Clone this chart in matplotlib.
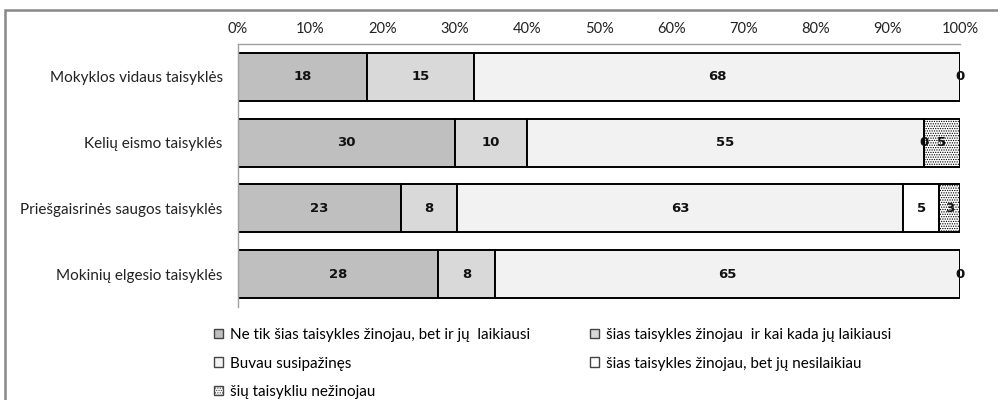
import matplotlib
matplotlib.use("Agg")
import matplotlib.pyplot as plt
import numpy as np
from matplotlib.patches import Rectangle

categories = ["Mokyklos vidaus taisyklės", "Kelių eismo taisyklės",
              "Priešgaisrinės saugos taisyklės", "Mokinių elgesio taisyklės"]
series_names = ["Ne tik šias taisykles žinojau, bet ir jų  laikiausi",
                "šias taisykles žinojau  ir kai kada jų laikiausi",
                "Buvau susipažinęs",
                "šias taisykles žinojau, bet jų nesilaikiau",
                "šių taisykliu nežinojau"]
s1 = [18, 30, 23, 28]
s2 = [15, 10, 8, 8]
s3 = [68, 55, 63, 65]
s4 = [0, 0, 5, 0]
s5 = [np.nan, 5, 3, np.nan]
tick_labels = ["0%", "10%", "20%", "30%", "40%", "50%", "60%", "70%", "80%", "90%", "100%"]

colors = ["#BFBFBF", "#D9D9D9", "#F2F2F2", "#FFFFFF", "#FFFFFF"]
hatches = [None, None, None, None, "......."]

plt.rcParams['hatch.linewidth'] = 0.6
fig = plt.figure(figsize=(9.98, 4.0), dpi=100)
ax = fig.add_axes([238/998, 1-307/400, (960-238)/998, (307-44)/400])

data = np.array([s1, s2, s3, s4, s5], dtype=float)
totals = np.nansum(data, axis=0)
pct = data / totals * 100
y = np.arange(len(categories))
left = np.zeros(len(categories))
handles = []
for i in range(5):
    vals = np.nan_to_num(pct[i])
    bars = ax.barh(y, vals, left=left, height=0.73, color=colors[i],
                   edgecolor="black", linewidth=1.4, hatch=hatches[i],
                   label=series_names[i])
    labels = ["" if np.isnan(v) else f"{int(v)}" for v in data[i]]
    ax.bar_label(bars, labels=labels, label_type="center", fontsize=9.5,
                 fontweight="bold", family="DejaVu Sans", color="#111111")
    left += vals
    handles.append(bars)

ax.set_xlim(0, 100)
ax.set_ylim(3.5, -0.5)
ax.set_yticks(y)
ax.set_yticklabels(categories, family="Lato", fontsize=11, color="#222222")
ax.set_xticks(np.arange(0, 101, 10))
ax.set_xticklabels(tick_labels, family="Lato", fontsize=10.5, color="#222222")
ax.xaxis.tick_top()
ax.tick_params(axis="both", length=0)
ax.tick_params(axis="x", pad=6)
ax.tick_params(axis="y", pad=11)
for s in ["right", "bottom"]:
    ax.spines[s].set_visible(False)
for s in ["left", "top"]:
    ax.spines[s].set_color("#A0A0A0")
    ax.spines[s].set_linewidth(1.0)

leg_kw = dict(frameon=False, handlelength=0.6, handleheight=0.6,
              handletextpad=0.45, labelspacing=0.95,
              prop={"family": "Lato", "size": 11}, borderpad=0, borderaxespad=0)
leg1 = fig.legend([handles[0], handles[2], handles[4]],
                  [series_names[0], series_names[2], series_names[4]],
                  loc="upper left", bbox_to_anchor=(214/998, 1-328/400), **leg_kw)
leg2 = fig.legend([handles[1], handles[3]],
                  [series_names[1], series_names[3]],
                  loc="upper left", bbox_to_anchor=(590/998, 1-328/400), **leg_kw)
for leg in (leg1, leg2):
    for p in leg.get_patches():
        p.set_linewidth(1.0)
        p.set_edgecolor("#444444")

fig.patches.append(Rectangle((5/998, -0.1), 1.2, 1-10/400 + 0.1,
                             transform=fig.transFigure, fill=False,
                             edgecolor="#888888", linewidth=1.8))

fig.savefig("out.png", dpi=100)
